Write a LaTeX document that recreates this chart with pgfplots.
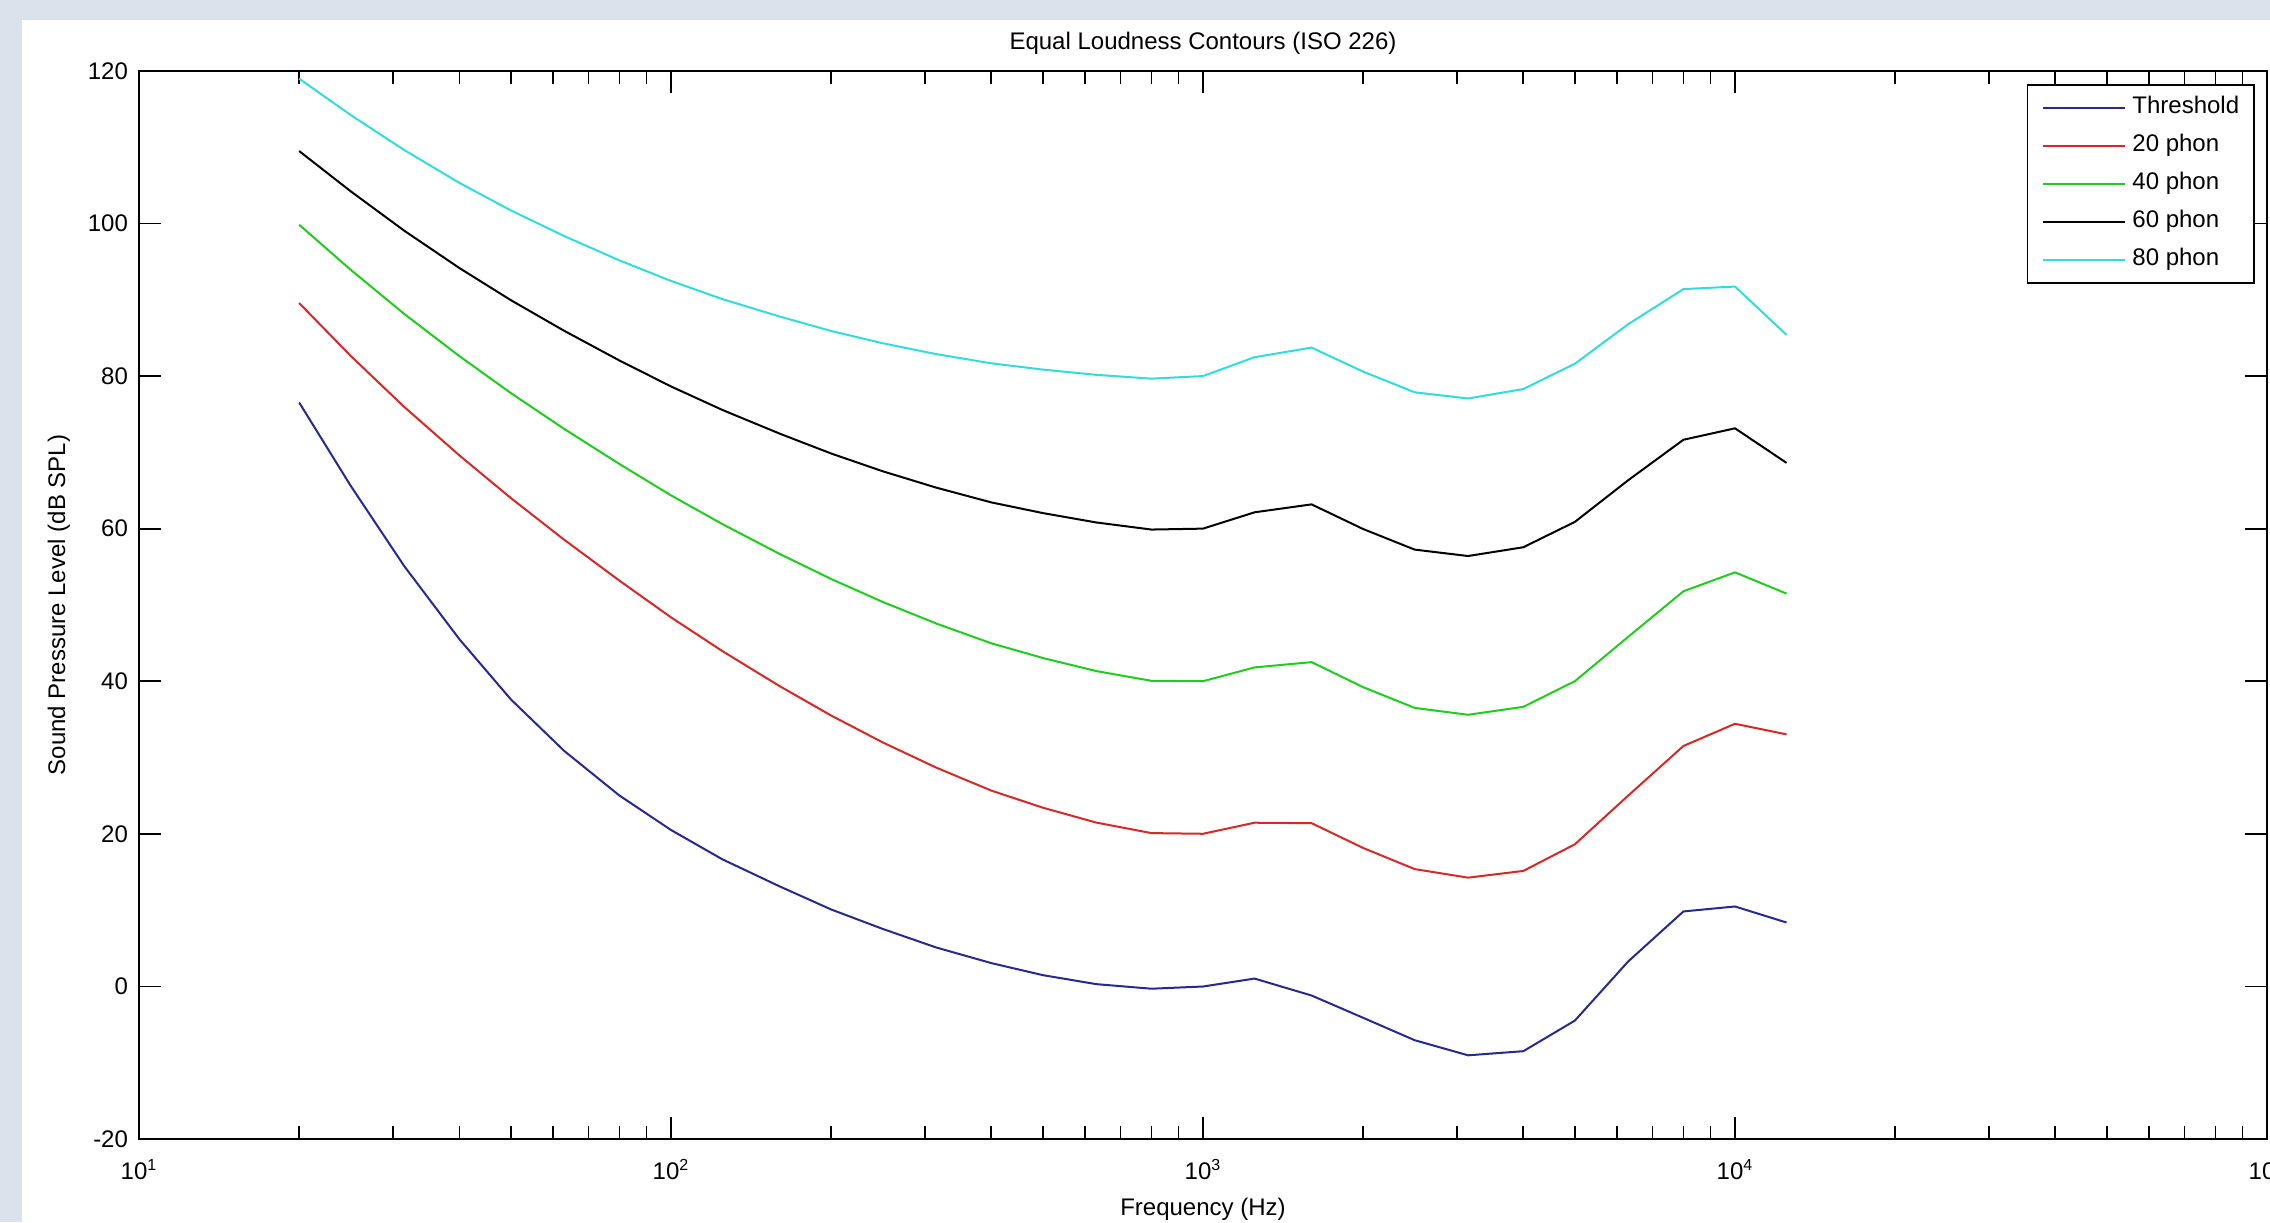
\documentclass[border=0pt]{standalone}
\usepackage{fontspec}
\setmainfont{Liberation Sans}
\usepackage{pgfplots}
\usepackage{pgfplotstable}
\pgfplotsset{compat=1.18}

\definecolor{bgblue}{RGB}{218,227,236}
\definecolor{cthr}{RGB}{40,40,145}
\definecolor{cred}{RGB}{215,40,40}
\definecolor{cgreen}{RGB}{30,205,30}
\definecolor{ccyan}{RGB}{50,220,220}

% ISO 226 contours, dB SPL
\pgfplotstableread{
f      thr      p20      p40      p60       p80
20     76.55    89.58    99.85    109.51    118.99
25     65.62    82.65    93.94    104.23    114.23
31.5   55.12    75.98    88.17    99.08     109.65
40     45.53    69.62    82.63    94.18     105.34
50     37.63    64.02    77.78    89.96     101.72
63     30.87    58.55    73.08    85.94     98.36
80     25.02    53.19    68.48    82.05     95.17
100    20.51    48.38    64.37    78.65     92.48
125    16.65    43.94    60.59    75.56     90.09
160    13.12    39.37    56.70    72.47     87.82
200    10.09    35.51    53.41    69.86     85.92
250    7.54     31.99    50.40    67.53     84.31
315    5.11     28.69    47.58    65.39     82.89
400    3.06     25.67    44.98    63.45     81.68
500    1.48     23.43    43.05    62.05     80.86
630    0.30     21.48    41.34    60.82     80.17
800    -0.30    20.10    40.06    59.89     79.67
1000   -0.01    20.01    40.01    60.01     80.01
1250   1.03     21.46    41.82    62.15     82.48
1600   -1.19    21.40    42.51    63.19     83.74
2000   -4.11    18.15    39.23    59.96     80.59
2500   -7.05    15.38    36.51    57.26     77.88
3150   -9.03    14.26    35.61    56.42     77.07
4000   -8.49    15.14    36.65    57.57     78.31
5000   -4.48    18.63    40.01    60.89     81.62
6300   3.28     25.02    45.83    66.36     86.81
8000   9.83     31.52    51.80    71.66     91.41
10000  10.48    34.43    54.28    73.16     91.74
12500  8.38     33.04    51.49    68.63     85.41
}\isotab

\begin{document}
\begin{tikzpicture}
\path[use as bounding box] (0pt,0pt) rectangle (1135pt,611pt);
\clip (0pt,0pt) rectangle (1135pt,611pt);
\fill[bgblue] (0pt,0pt) rectangle (1135pt,611pt);
\fill[white] (11pt,0pt) rectangle (1135pt,601pt);
\begin{axis}[
  at={(69.5pt,41.5pt)}, anchor=south west,
  scale only axis,
  width=1064pt, height=534pt,
  xmode=log,
  xmin=10, xmax=100000,
  ymin=-20, ymax=120,
  xtick={10,100,1000,10000,100000},
  xticklabels={10\textsuperscript{1},10\textsuperscript{2},10\textsuperscript{3},10\textsuperscript{4},10\textsuperscript{5}},
  ytick={-20,0,20,40,60,80,100,120},
  font=\fontsize{12}{14}\selectfont,
  /pgf/number format/assume math mode=true,
  tick align=inside,
  major tick length=11pt,
  minor tick length=6.5pt,
  every tick/.style={black, line width=0.8pt},
  axis line style={line width=0.9pt},
  xticklabel style={anchor=base, yshift=-20pt},
  yticklabel style={anchor=east, xshift=-2pt},
  title={Equal Loudness Contours (ISO 226)},
  title style={at={(axis description cs:0.5,1)}, anchor=base, yshift=4.5pt},
  xlabel={Frequency (Hz)},
  xlabel style={at={(axis description cs:0.5,0)}, anchor=base, yshift=-38pt},
  ylabel={Sound Pressure Level (dB SPL)},
  ylabel style={at={(axis description cs:0,0.5)}, anchor=center, yshift=40pt},
  legend cell align=left,
  legend image code/.code={\draw[#1] (0pt,0pt) -- (41pt,0pt); \path (44pt,0pt);},
  legend style={at={(axis description cs:1,1)}, anchor=north east,
    xshift=-6pt, yshift=-6.5pt, draw=black, line width=0.8pt,
    inner xsep=7.5pt, inner ysep=6pt, row sep=8pt,
    nodes={inner sep=0pt, text height=8.5pt, text depth=2.5pt},
    font=\fontsize{12}{14}\selectfont},
]
\addplot[cthr, line width=1pt] table[x=f, y=thr] {\isotab};
\addlegendentry{Threshold}
\addplot[cred, line width=1pt] table[x=f, y=p20] {\isotab};
\addlegendentry{20 phon}
\addplot[cgreen, line width=1pt] table[x=f, y=p40] {\isotab};
\addlegendentry{40 phon}
\addplot[black, line width=1pt] table[x=f, y=p60] {\isotab};
\addlegendentry{60 phon}
\addplot[ccyan, line width=1pt] table[x=f, y=p80] {\isotab};
\addlegendentry{80 phon}
\end{axis}
\end{tikzpicture}
\end{document}
